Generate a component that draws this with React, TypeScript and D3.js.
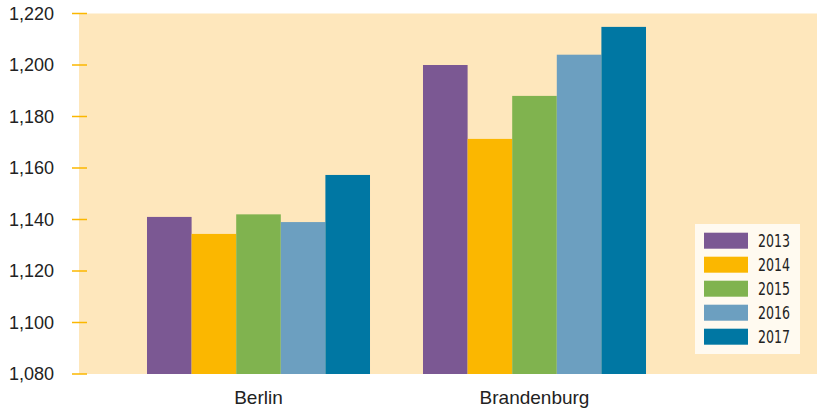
import React from "react";
import * as d3 from "d3";

const categories = ["Berlin", "Brandenburg"];
const years = ["2013", "2014", "2015", "2016", "2017"];
const berlinValues = [1141, 1134.4, 1142, 1139, 1157.3];
const brandenburgValues = [1200, 1171.3, 1188, 1204, 1214.8];
const yTicks = [1080, 1100, 1120, 1140, 1160, 1180, 1200, 1220];
const colors = ["#7b5893", "#fbb700", "#80b34f", "#6c9fc0", "#0077a3"];

const W = 817;
const H = 410;

export default function App() {
  const data = [berlinValues, brandenburgValues];
  const y = d3.scaleLinear().domain([1080, 1220]).range([374, 13.5]);
  const x0 = d3
    .scaleBand()
    .domain(categories)
    .range([120.5, 672.5])
    .paddingInner(0.192)
    .paddingOuter(0.096);
  const x1 = d3.scaleBand().domain(years).range([0, x0.bandwidth()]);
  const fmt = d3.format(",");
  const narrow = "'Liberation Sans Narrow', 'DejaVu Sans Condensed', 'Liberation Sans', sans-serif";
  const regular = "'Liberation Sans', Arial, sans-serif";

  return (
    <svg
      width={W}
      height={H}
      style={{ position: "absolute", left: 0, top: 0 }}
      xmlns="http://www.w3.org/2000/svg"
    >
      <rect x={79} y={y(1220)} width={W - 79} height={y(1080) - y(1220)} fill="#fee7bc" />
      {yTicks.map((t) => (
        <g key={t}>
          <line x1={72} x2={87} y1={y(t)} y2={y(t)} stroke="#fbb700" strokeWidth={1.5} />
          <text
            x={54}
            y={y(t)}
            dy="0.36em"
            textAnchor="end"
            fontFamily={regular}
            fontSize={18}
            fill="#222"
          >
            {fmt(t)}
          </text>
        </g>
      ))}
      {categories.map((c, ci) => (
        <g key={c} transform={`translate(${x0(c)},0)`}>
          {years.map((yr, i) => (
            <rect
              key={yr}
              x={x1(yr)}
              y={y(data[ci][i])}
              width={x1.bandwidth()}
              height={y(1080) - y(data[ci][i])}
              fill={colors[i]}
            />
          ))}
          <text
            x={x0.bandwidth() / 2}
            y={404}
            textAnchor="middle"
            fontFamily={regular}
            fontSize={19}
            fill="#222"
          >
            {c}
          </text>
        </g>
      ))}
      <g>
        <rect x={695} y={224} width={105} height={130} fill="#fffaf0" />
        {years.map((yr, i) => (
          <g key={yr} transform={`translate(704,${232.7 + i * 24})`}>
            <rect x={0} y={0} width={44} height={16} fill={colors[i]} />
            <text
              x={54}
              y={8}
              dy="0.36em"
              fontFamily={narrow}
              fontSize={18}
              textLength={32}
              lengthAdjust="spacingAndGlyphs"
              fill="#222"
            >
              {yr}
            </text>
          </g>
        ))}
      </g>
    </svg>
  );
}
